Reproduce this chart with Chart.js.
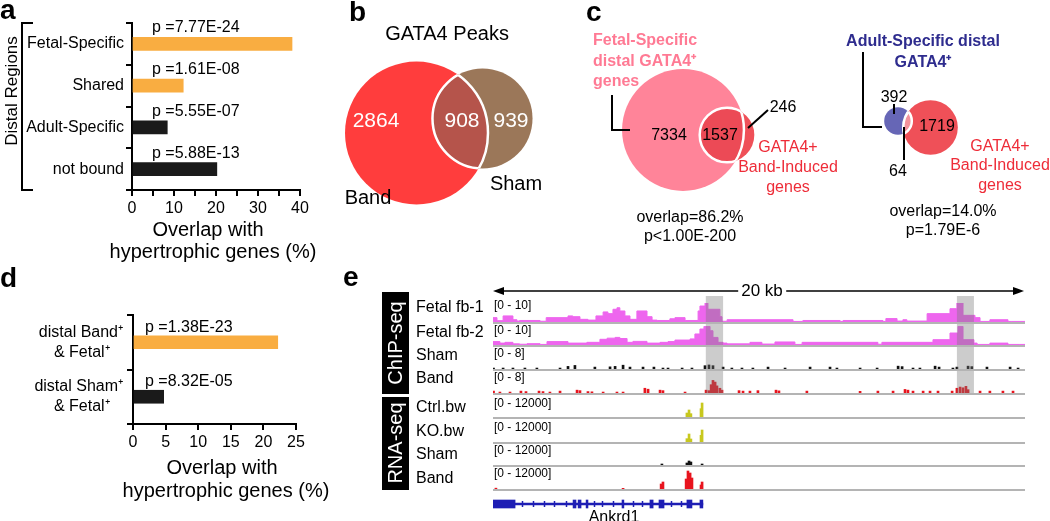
<!DOCTYPE html>
<html>
<head>
<meta charset="utf-8">
<title>GATA4 distal regions</title>
<script src="https://cdn.jsdelivr.net/npm/chart.js@4.4.1/dist/chart.umd.min.js"></script>
<style>
  html, body { margin: 0; padding: 0; background: #fff; }
  #fig { position: relative; width: 1050px; height: 521px; overflow: hidden;
         font-family: "Liberation Sans", Arial, Helvetica, sans-serif; color: #000; }
  #fig canvas { position: absolute; }
  #lines { position: absolute; left: 0; top: 0; z-index: 2; }
  .t { position: absolute; white-space: nowrap; line-height: 1; z-index: 3; transform: translate(-50%, -50%); }
  .l { transform: translate(0, -50%); }
  .pl { font-size: 28px; font-weight: bold; }
  .box { position: absolute; background: #000; z-index: 2; }
  .pink { color: #FF7A94; font-weight: bold; font-size: 16px; }
  .red { color: #EE2C38; font-size: 16px; }
  .blue { color: #2E2C8E; font-weight: bold; font-size: 16px; }
  .ax { font-size: 20px; }
  .trk { font-size: 16px; }
  .rng { font-size: 12px; }
</style>
</head>
<body>
<div id="fig">
  <svg id="lines" width="1050" height="521">
    <g fill="none" stroke="#000" stroke-width="2">
      <polyline points="33,23 22,23 22,190 33,190"/>
      <polyline points="612,95 612,130 630,130"/>
      <line x1="748" y1="128" x2="768" y2="110"/>
      <polyline points="863,52 863,127 882,127"/>
      <line x1="894" y1="104" x2="894" y2="114"/>
      <line x1="904" y1="127" x2="904" y2="160"/>
    </g>
    <line x1="500" y1="291" x2="1016" y2="291" stroke="#000" stroke-width="1.5"/>
    <polygon points="493,291 504,287 504,295" fill="#000"/>
    <polygon points="1024,291 1013,287 1013,295" fill="#000"/>
  </svg>

  <!-- panel letters -->
  <span class="t l pl" style="left:0px; top:10px">a</span>
  <span class="t l pl" style="left:349px; top:12px">b</span>
  <span class="t l pl" style="left:586px; top:12px">c</span>
  <span class="t l pl" style="left:0px; top:278px">d</span>
  <span class="t l pl" style="left:343px; top:277px">e</span>

  <!-- a -->
  <span class="t" style="left:11px; top:91px; font-size:17px; transform:translate(-50%,-50%) rotate(-90deg)">Distal Regions</span>
  <span class="t ax" style="left:208px; top:229px">Overlap with</span>
  <span class="t ax" style="left:213px; top:251px">hypertrophic genes (%)</span>

  <!-- d -->
  <span class="t ax" style="left:222px; top:467px">Overlap with</span>
  <span class="t ax" style="left:226px; top:490px">hypertrophic genes (%)</span>

  <!-- b -->
  <span class="t" style="left:447px; top:33px; font-size:20px">GATA4 Peaks</span>
  <span class="t" style="left:376px; top:119px; font-size:21px; color:#fff">2864</span>
  <span class="t" style="left:462px; top:119px; font-size:21px; color:#fff">908</span>
  <span class="t" style="left:511px; top:119px; font-size:21px; color:#fff">939</span>
  <span class="t" style="left:368px; top:197px; font-size:20px">Band</span>
  <span class="t" style="left:516px; top:183px; font-size:20px">Sham</span>

  <!-- c, left -->
  <span class="t l pink" style="left:593px; top:40px">Fetal-Specific</span>
  <span class="t l pink" style="left:593px; top:61px">distal GATA4⁺</span>
  <span class="t l pink" style="left:593px; top:81px">genes</span>
  <span class="t" style="left:669px; top:135px; font-size:16px">7334</span>
  <span class="t" style="left:720px; top:135px; font-size:16px">1537</span>
  <span class="t" style="left:783px; top:107px; font-size:16px">246</span>
  <span class="t red" style="left:788px; top:147px">GATA4+</span>
  <span class="t red" style="left:788px; top:167px">Band-Induced</span>
  <span class="t red" style="left:788px; top:187px">genes</span>
  <span class="t" style="left:690px; top:217px; font-size:16px">overlap=86.2%</span>
  <span class="t" style="left:690px; top:236px; font-size:16px">p&lt;1.00E-200</span>

  <!-- c, right -->
  <span class="t blue" style="left:923px; top:41px">Adult-Specific distal</span>
  <span class="t blue" style="left:923px; top:62px">GATA4⁺</span>
  <span class="t" style="left:894px; top:97px; font-size:16px">392</span>
  <span class="t" style="left:937px; top:126px; font-size:16px">1719</span>
  <span class="t" style="left:898px; top:171px; font-size:16px">64</span>
  <span class="t red" style="left:1000px; top:146px">GATA4+</span>
  <span class="t red" style="left:1000px; top:165px">Band-Induced</span>
  <span class="t red" style="left:1000px; top:185px">genes</span>
  <span class="t" style="left:943px; top:211px; font-size:16px">overlap=14.0%</span>
  <span class="t" style="left:943px; top:230px; font-size:16px">p=1.79E-6</span>

  <!-- e -->
  <div class="box" style="left:382px; top:292px; width:27px; height:102px"></div>
  <div class="box" style="left:382px; top:397px; width:27px; height:93px"></div>
  <span class="t" style="left:395px; top:343px; font-size:20px; color:#fff; transform:translate(-50%,-50%) rotate(-90deg)">ChIP-seq</span>
  <span class="t" style="left:395px; top:443px; font-size:20px; color:#fff; transform:translate(-50%,-50%) rotate(-90deg)">RNA-seq</span>
  <span class="t" style="left:762px; top:290px; font-size:17px; background:#fff; padding:0 3px">20 kb</span>
  <span class="t" style="left:614px; top:517px; font-size:16px">Ankrd1</span>
</div>

<script>
// ---- panel a: distal regions vs hypertrophic genes ----
const distalCategories = ['Fetal-Specific', 'Shared', 'Adult-Specific', 'not bound'];
const distalOverlap = [38.1, 12.2, 8.4, 20.2];
const distalPValues = ['p =7.77E-24', 'p =1.61E-08', 'p =5.55E-07', 'p =5.88E-13'];

// ---- panel d ----
const bandFetalCategories = [['distal Band⁺', '& Fetal⁺   '], ['distal Sham⁺', '& Fetal⁺   ']];
const bandFetalOverlap = [22.2, 4.7];
const bandFetalPValues = ['p =1.38E-23', 'p =8.32E-05'];

// ---- panel b: GATA4 peaks (Band only, shared, Sham only) ----
const peakCounts = [2864, 908, 939];

// ---- panel c: gene overlaps ----
const fetalVsBand = [7334, 1537, 246];   // fetal only, shared, band-induced only
const adultVsBand = [392, 64, 1719];     // adult only, shared, band-induced only

// ---- panel e: tracks, [kb, signal] ----
const fetalFb1 = [[0,0.6],[0.15,2.3],[0.38,0.7],[0.75,3.2],[0.9,1.2],[1.0,0.5],[1.77,0.8],[2.0,0.4],
  [2.82,2.3],[3.0,3.2],[3.27,2.8],[3.57,1.4],[3.87,1.0],[4.14,3.2],[4.32,5.3],[4.51,4.4],[4.66,6.7],
  [4.77,7.5],[4.96,5.8],[5.15,3.2],[5.41,1.4],[5.79,5.8],[5.98,2.8],[6.17,1.0],[6.65,0.8],[6.84,1.7],
  [7.22,2.3],[7.71,0.8],[7.78,5.8],[7.97,8.4],[8.08,10],[8.53,6.7],[8.61,2.8],[8.8,0.4],[11.28,1.2],
  [11.65,0.3],[13.05,0.8],[13.16,0.3],[14.66,0.8],[14.77,0.3],[15.19,1.8],[15.41,0.5],[15.56,1.2],
  [16.32,0.5],[17.18,4.4],[17.44,7],[17.67,10],[18.12,3.5],[18.31,2.3],[18.68,0.3],[19.36,1.2],
  [19.51,0.3],[20,0.3]];
const fetalFb2 = [[0,1.0],[0.26,1.8],[0.45,1.0],[0.75,1.4],[1.0,0.6],[1.28,0.4],[1.77,0.7],[2.03,0.3],
  [2.82,1.8],[3.53,1.0],[4.02,1.4],[4.29,3.0],[4.59,3.6],[4.77,4.0],[5.04,3.4],[5.26,1.4],[5.79,1.9],
  [6.28,1.0],[6.58,1.4],[6.84,1.8],[7.41,2.6],[7.59,3.2],[7.78,5.8],[7.93,8.4],[8.16,9.8],[8.27,7.5],
  [8.46,4.0],[8.65,1.4],[8.8,1.0],[9.66,0.6],[10.11,1.4],[10.6,0.5],[11.35,1.6],[11.62,0.3],[14.47,1.4],
  [14.62,0.4],[16.54,1.4],[17.18,2.8],[17.48,6.3],[17.67,9.8],[18.08,2.8],[18.2,1.0],[18.68,0.3],
  [19.36,1.0],[19.81,0.3],[20,0.3]];
const chipSham = [[0.02,0.4],[0.38,0.4],[0.75,0.4],[1.2,0.4],[1.65,0.4],[2.52,0.4],[2.82,1.1],[3.08,1.5],
  [3.83,0.8],[4.4,0.9],[4.59,1.1],[4.89,1.6],[5.15,0.8],[5.64,0.8],[6.05,0.8],[6.39,0.4],[6.58,0.4],
  [7.11,0.4],[7.48,0.4],[7.97,1.4],[8.12,1.7],[8.27,1.4],[8.65,0.8],[8.98,0.4],[9.36,0.4],[9.77,0.4],
  [10.34,0.8],[10.98,0.4],[11.92,0.8],[12.67,0.8],[12.93,0.4],[13.8,0.4],[14.44,0.4],[15.23,1.2],
  [15.38,1.0],[15.79,0.4],[16.05,0.4],[16.62,1.2],[16.77,0.8],[17.29,0.4],[17.44,0.8],[17.86,1.2],
  [18.0,1.0],[18.57,0.8],[19.44,0.8],[19.74,0.4]];
const chipBand = [[0.02,0.8],[0.26,0.4],[0.64,0.4],[1.05,0.8],[1.24,0.6],[1.73,0.8],[1.88,0.6],[2.14,0.4],
  [2.52,0.8],[3.16,1.2],[3.27,1.0],[3.57,0.6],[3.72,0.5],[4.14,0.4],[4.66,0.4],[4.89,0.4],[5.71,2.0],
  [5.83,1.6],[6.28,1.2],[6.39,1.0],[7.22,0.4],[8.01,1.2],[8.12,1.0],[8.2,3.5],[8.27,5.3],[8.35,4.6],
  [8.42,3.0],[8.53,2.0],[8.61,1.2],[9.25,1.0],[9.4,0.8],[9.66,0.8],[9.96,1.0],[10.64,1.2],[10.75,0.9],
  [11.8,0.8],[13.8,0.7],[14.47,0.8],[15.04,0.8],[15.49,1.5],[15.6,1.2],[15.79,0.8],[16.17,0.8],
  [16.43,0.8],[16.73,0.8],[17.26,0.8],[17.44,2.0],[17.56,2.5],[17.67,2.2],[17.78,2.8],[17.86,1.4],
  [18.31,0.8],[18.68,0.8],[19.17,0.8],[19.55,0.8]];
const rnaCtrl = [[7.29,2400],[7.37,4200],[7.44,2000],[7.82,5000],[7.86,8400]];
const rnaKO   = [[7.29,2000],[7.37,4800],[7.44,1800],[7.82,4000],[7.86,7200]];
const rnaSham = [[6.35,600],[7.29,1200],[7.37,2400],[7.44,1800],[7.86,600]];
const rnaBand = [[0.11,500],[4.89,400],[6.32,3000],[6.39,4200],[7.26,6000],[7.33,10800],[7.41,9600],
  [7.48,6600],[7.82,2400],[7.86,4200]];
const highlightKb = [[8.0, 8.65], [17.44, 18.08]];
const geneSpan = [0, 7.89];
const geneExons = [[0,0.83],[3.01,3.12],[3.2,3.31],[3.5,3.57],[4.85,4.92],[5.9,6.02],[6.24,6.43],[7.29,7.48],[7.78,7.89]];
const intronArrows = [1.1, 1.5, 1.9, 2.3, 2.75, 3.8, 4.1, 4.5, 5.25, 5.6, 6.7, 7.05];

Chart.defaults.font.family = '"Liberation Sans", Arial, Helvetica, sans-serif';
Chart.defaults.color = '#000';
Chart.defaults.animation = false;

const fig = document.getElementById('fig');
function addCanvas(left, top, w, h) {
  const c = document.createElement('canvas');
  c.width = w; c.height = h;
  c.style.left = left + 'px'; c.style.top = top + 'px';
  c.style.width = w + 'px'; c.style.height = h + 'px';
  fig.appendChild(c);
  return c;
}
const ORANGE = '#F9AD41', DARK = '#1A1A1A';
const quiet = { legend: { display: false }, tooltip: { enabled: false } };

// p-value text above each bar
const pLabels = {
  id: 'pLabels',
  afterDatasetsDraw(chart, args, opts) {
    const ctx = chart.ctx, x0 = chart.scales.x.getPixelForValue(0);
    ctx.save();
    ctx.font = '16px ' + Chart.defaults.font.family;
    ctx.fillStyle = '#000';
    ctx.textBaseline = 'middle';
    chart.getDatasetMeta(0).data.forEach((bar, i) => ctx.fillText(opts.labels[i], x0 + opts.dx, bar.y + opts.dy));
    ctx.restore();
  }
};

function overlapBars(canvas, labels, values, colors, pvals, g) {
  return new Chart(canvas, {
    type: 'bar',
    data: { labels: labels, datasets: [{ data: values, backgroundColor: colors, barThickness: 13, borderWidth: 0 }] },
    options: {
      indexAxis: 'y', responsive: false, events: [],
      layout: { padding: { top: g.top, right: g.right, left: 0, bottom: 0 } },
      scales: {
        x: {
          min: 0, max: g.max, afterFit: s => { s.height = g.xh; },
          border: { display: true, color: '#000', width: 2 },
          grid: { drawOnChartArea: false, tickLength: 6, color: '#000', lineWidth: 2 },
          ticks: { stepSize: 5, autoSkip: false, maxRotation: 0, padding: 3, font: { size: 16 },
                   callback: v => (v % g.every === 0 ? v : '') }
        },
        y: {
          afterFit: s => { s.width = g.yw; },
          border: { display: true, color: '#000', width: 2 },
          grid: { offset: true, drawOnChartArea: false, tickLength: 6, color: '#000', lineWidth: 2 },
          ticks: { padding: g.tp, font: { size: 16, lineHeight: 1.25 } }
        }
      },
      plugins: Object.assign({ pLabels: { labels: pvals, dx: g.dx, dy: g.dy } }, quiet)
    },
    plugins: [pLabels]
  });
}

overlapBars(addCanvas(0, 0, 330, 262), distalCategories, distalOverlap,
  [ORANGE, ORANGE, DARK, DARK], distalPValues,
  { top: 23, right: 30, max: 40, every: 10, xh: 72, yw: 132, tp: 2, dx: 20, dy: -16 });

overlapBars(addCanvas(0, 270, 345, 231), bandFetalCategories, bandFetalOverlap,
  [ORANGE, DARK], bandFetalPValues,
  { top: 45, right: 49, max: 25, every: 5, xh: 77, yw: 133, tp: 4, dx: 12, dy: -15 });

// ---- Venn diagrams (b, c): circle area follows the counts ----
const vennPos = {
  band: [416.5, 133], sham: [482.5, 118.5],
  fetal: [683, 130], bandL: [727, 135],
  adult: [898, 121], bandR: [930.5, 127.5]
};
const vennK = { b: 1.164, c: 0.647 };
const circles = [
  { at: vennPos.band,  n: peakCounts[0] + peakCounts[1],   k: vennK.b, color: '#FF3D3D', order: 2 },
  { at: vennPos.sham,  n: peakCounts[1] + peakCounts[2],   k: vennK.b, color: '#9B7759', order: 1 },
  { at: vennPos.fetal, n: fetalVsBand[0] + fetalVsBand[1], k: vennK.c, color: '#FF8499', order: 2 },
  { at: vennPos.bandL, n: fetalVsBand[1] + fetalVsBand[2], k: vennK.c, color: '#EF5058', order: 1 },
  { at: vennPos.adult, n: adultVsBand[0] + adultVsBand[1], k: vennK.c, color: '#6666B6', order: 2 },
  { at: vennPos.bandR, n: adultVsBand[1] + adultVsBand[2], k: vennK.c, color: '#EF5058', order: 1 }
];
const lenses = [[0, 1, '#B5544B'], [2, 3, '#EC4A56'], [4, 5, '#F4939C']];

const lensPlugin = {
  id: 'lens',
  afterDatasetsDraw(chart, args, opts) {
    const ctx = chart.ctx;
    const circ = i => {
      const el = chart.getDatasetMeta(i).data[0];
      return { x: el.x, y: el.y, r: chart.data.datasets[i].data[0].r };
    };
    const path = c => { ctx.beginPath(); ctx.arc(c.x, c.y, c.r, 0, Math.PI * 2); };
    opts.pairs.forEach(([ia, ib, color]) => {
      const A = circ(ia), B = circ(ib);
      ctx.save(); path(A); ctx.clip(); path(B); ctx.fillStyle = color; ctx.fill();
      ctx.strokeStyle = '#fff'; ctx.lineWidth = 2.5; ctx.stroke(); ctx.restore();
      ctx.save(); path(B); ctx.clip(); path(A);
      ctx.strokeStyle = '#fff'; ctx.lineWidth = 2.5; ctx.stroke(); ctx.restore();
    });
  }
};

new Chart(addCanvas(300, 0, 750, 260), {
  type: 'bubble',
  data: {
    datasets: circles.map(c => ({
      data: [{ x: c.at[0], y: c.at[1], r: c.k * Math.sqrt(c.n) }],
      backgroundColor: c.color, borderWidth: 0, order: c.order
    }))
  },
  options: {
    responsive: false, events: [], layout: { autoPadding: false, padding: 0 },
    scales: {
      x: { type: 'linear', min: 300, max: 1050, display: false },
      y: { type: 'linear', min: 0, max: 260, reverse: true, display: false }
    },
    plugins: Object.assign({ lens: { pairs: lenses } }, quiet)
  },
  plugins: [lensPlugin]
});

// ---- panel e: browser tracks ----
const trackPlugin = {
  id: 'trackDeco',
  afterDatasetsDraw(chart, args, opts) {
    const { ctx, chartArea: a, scales: { x } } = chart;
    ctx.save();
    ctx.fillStyle = 'rgba(120,120,120,0.38)';
    (opts.shade ? highlightKb : []).forEach(r => {
      const x0 = x.getPixelForValue(r[0]), x1 = x.getPixelForValue(r[1]);
      ctx.fillRect(x0, 0, x1 - x0, a.bottom);
    });
    ctx.fillStyle = '#B4B4B4';
    ctx.fillRect(a.left, a.bottom, a.right - a.left, 2);
    ctx.restore();
  }
};

const tracks = [
  { name: 'Fetal fb-1', range: '[0 - 10]',    data: fetalFb1, max: 10,    kind: 'line', color: '#EE66EE', top: 296, h: 28, pad: 7, shade: true },
  { name: 'Fetal fb-2', range: '[0 - 10]',    data: fetalFb2, max: 10,    kind: 'line', color: '#EE66EE', top: 324, h: 23, pad: 2, shade: true },
  { name: 'Sham',       range: '[0 - 8]',     data: chipSham, max: 8,     kind: 'bar',  color: '#111111', top: 347, h: 24, pad: 3, shade: true },
  { name: 'Band',       range: '[0 - 8]',     data: chipBand, max: 8,     kind: 'bar',  color: '#E8141E', top: 371, h: 24, pad: 3, shade: true },
  { name: 'Ctrl.bw',    range: '[0 - 12000]', data: rnaCtrl,  max: 12000, kind: 'bar',  color: '#C8C81E', top: 396, h: 23, pad: 1 },
  { name: 'KO.bw',      range: '[0 - 12000]', data: rnaKO,    max: 12000, kind: 'bar',  color: '#C8C81E', top: 421, h: 23, pad: 1 },
  { name: 'Sham',       range: '[0 - 12000]', data: rnaSham,  max: 12000, kind: 'bar',  color: '#111111', top: 444, h: 23, pad: 1 },
  { name: 'Band',       range: '[0 - 12000]', data: rnaBand,  max: 12000, kind: 'bar',  color: '#E8141E', top: 468, h: 23, pad: 1 }
];
const nameY  = [307, 332, 355, 378, 407, 431, 454, 478];
const rangeY = [305, 330, 353, 377, 403, 427, 450, 473];

tracks.forEach((t, i) => {
  const line = t.kind === 'line';
  new Chart(addCanvas(493, t.top, 532, t.h), {
    type: t.kind,
    data: { datasets: [{
      data: t.data.map(p => ({ x: p[0], y: p[1] })),
      backgroundColor: t.color, borderColor: t.color,
      borderWidth: line ? 1 : 0, fill: line ? 'origin' : false, stepped: line ? 'after' : false,
      pointRadius: 0, barThickness: 2
    }] },
    options: {
      responsive: false, events: [],
      layout: { padding: { top: t.pad, bottom: 2, left: 0, right: 0 } },
      scales: {
        x: { type: 'linear', min: 0, max: 20, offset: false, display: false },
        y: { min: 0, max: t.max, display: false }
      },
      plugins: Object.assign({ trackDeco: { shade: !!t.shade } }, quiet)
    },
    plugins: [trackPlugin]
  });
  const n = document.createElement('span');
  n.className = 't l trk'; n.textContent = t.name;
  n.style.left = '416px'; n.style.top = nameY[i] + 'px';
  fig.appendChild(n);
  const r = document.createElement('span');
  r.className = 't l rng'; r.textContent = t.range;
  r.style.left = '494px'; r.style.top = rangeY[i] + 'px';
  fig.appendChild(r);
});

// gene model
const GENE_BLUE = '#1E1EB4';
const intronPlugin = {
  id: 'introns',
  afterDatasetsDraw(chart, args, opts) {
    const { ctx, chartArea: a, scales: { x } } = chart;
    const yc = (a.top + a.bottom) / 2;
    ctx.save();
    ctx.strokeStyle = GENE_BLUE; ctx.lineWidth = 1.5;
    opts.marks.forEach(k => {
      const px = Math.round(x.getPixelForValue(k)) + 0.5;
      ctx.beginPath(); ctx.moveTo(px, yc - 3); ctx.lineTo(px, yc + 3); ctx.stroke();
    });
    ctx.restore();
  }
};
new Chart(addCanvas(493, 497, 532, 14), {
  type: 'bar',
  data: {
    labels: ['Ankrd1'],
    datasets: [{ data: [geneSpan], barThickness: 2, backgroundColor: GENE_BLUE }]
      .concat(geneExons.map(e => ({ data: [e], barThickness: 8, backgroundColor: GENE_BLUE })))
  },
  options: {
    indexAxis: 'y', responsive: false, events: [],
    datasets: { bar: { grouped: false } },
    layout: { padding: 0 },
    scales: { x: { type: 'linear', min: 0, max: 20, display: false }, y: { display: false } },
    plugins: Object.assign({ introns: { marks: intronArrows } }, quiet)
  },
  plugins: [intronPlugin]
});
</script>
</body>
</html>
